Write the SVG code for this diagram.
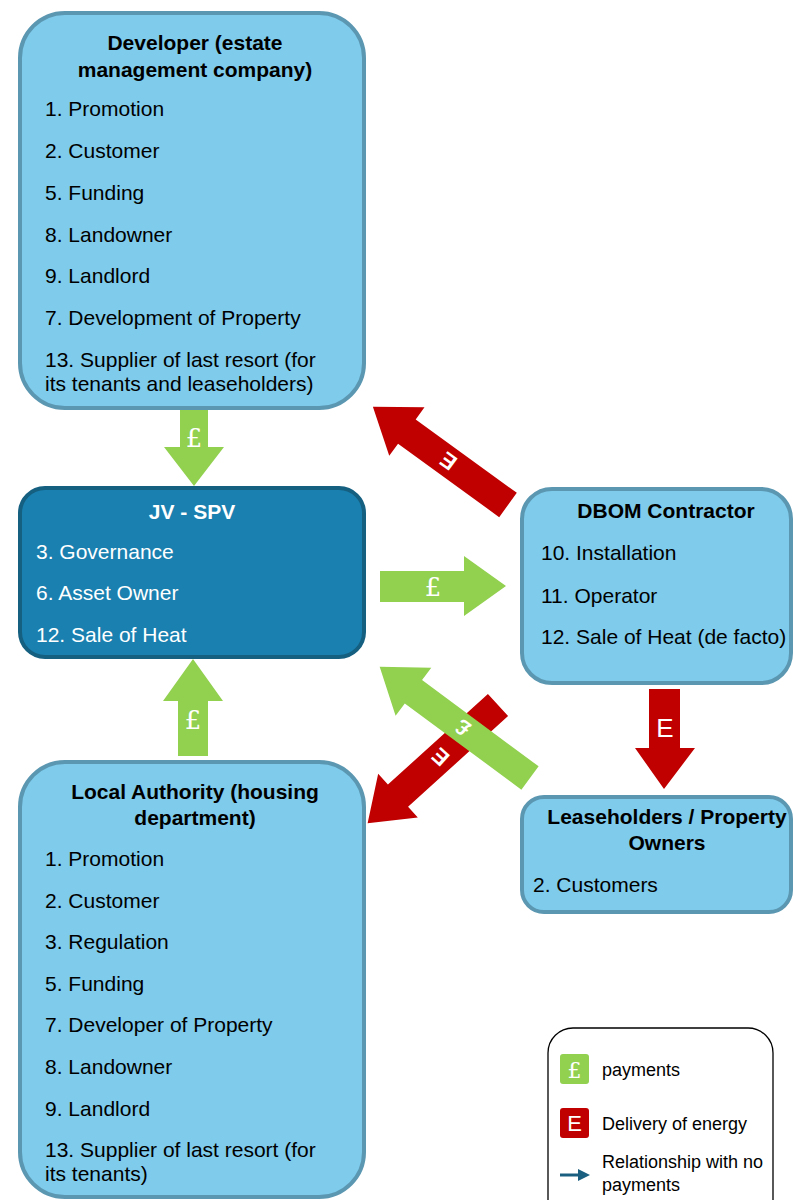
<svg xmlns="http://www.w3.org/2000/svg" width="793" height="1200" viewBox="0 0 793 1200">
<style>
.lb{fill:#7ecbec;stroke:#5b97b1;stroke-width:4}
.db{fill:#1a80b0;stroke:#155f80;stroke-width:4}
.t{font-family:"Liberation Sans",Arial,sans-serif;font-size:21px;fill:#000}
.tb{font-family:"Liberation Sans",Arial,sans-serif;font-size:21px;font-weight:bold;fill:#000;text-anchor:middle}
.w{fill:#fff}
.g{fill:#92d050}
.r{fill:#c00000}
.sym{font-family:"DejaVu Serif","Liberation Serif",serif;font-size:26px;fill:#fff;text-anchor:middle}
.symE{font-family:"Liberation Sans",Arial,sans-serif;font-size:26px;fill:#fff;text-anchor:middle}
.symB{font-family:"Liberation Sans",Arial,sans-serif;font-size:22px;font-weight:bold;fill:#fff;text-anchor:middle}
.lg{font-family:"Liberation Sans",Arial,sans-serif;font-size:18px;fill:#000}
</style>
<rect width="793" height="1200" fill="#fff"/>

<g id="connectors">
  <g id="dev-to-jv">
    <polygon class="g" points="180,408 208,408 208,447 224,447 194,486 164,447 180,447"/>
    <text class="sym" x="194" y="447">£</text>
  </g>
  <g id="la-to-jv">
    <polygon class="g" points="193,659 223,701 208,701 208,756 178,756 178,701 163,701"/>
    <text class="sym" x="193" y="729">£</text>
  </g>
  <g id="jv-to-dbom">
    <polygon class="g" points="380,571 464,571 464,556 506,586 464,616 464,602 380,602"/>
    <text class="sym" x="433" y="596">£</text>
  </g>
  <g id="dbom-to-lease">
    <polygon class="r" points="649,689 680,689 680,748 695,748 664,789 635,748 649,748"/>
    <text class="symE" x="665" y="737">E</text>
  </g>
  <g id="dbom-to-dev" transform="translate(508,505) rotate(-144)">
    <polygon class="r" points="0,-15 125,-15 125,-30 167,0 125,30 125,15 0,15"/>
    <text class="symB" x="74" y="8">E</text>
  </g>
  <g id="jv-to-la" transform="translate(498,705) rotate(137.8)">
    <polygon class="r" points="0,-15 135,-15 135,-29.5 176,0 135,29.5 135,15 0,15"/>
    <text class="symB" x="78" y="8" transform="rotate(84.2 78 0)">E</text>
  </g>
  <g id="lease-to-jv" transform="translate(530,778) rotate(-143.5)">
    <polygon class="g" points="0,-14.5 145,-14.5 145,-30 187,0 145,30 145,14.5 0,14.5"/>
    <text class="symB" x="84" y="8">£</text>
  </g>
</g>

<g id="developer">
  <rect class="lb" x="20" y="13" width="344" height="395" rx="45"/>
  <text class="tb" x="195" y="50">Developer (estate</text>
  <text class="tb" x="195" y="77">management company)</text>
  <text class="t" x="45" y="116">1. Promotion</text>
  <text class="t" x="45" y="158">2. Customer</text>
  <text class="t" x="45" y="200">5. Funding</text>
  <text class="t" x="45" y="242">8. Landowner</text>
  <text class="t" x="45" y="283">9. Landlord</text>
  <text class="t" x="45" y="325">7. Development of Property</text>
  <text class="t" x="45" y="367">13. Supplier of last resort (for</text>
  <text class="t" x="45" y="391">its tenants and leaseholders)</text>
</g>

<g id="jv-spv">
  <rect class="db" x="20" y="488" width="344" height="169" rx="25"/>
  <text class="tb w" x="192" y="519">JV - SPV</text>
  <text class="t w" x="36" y="559">3. Governance</text>
  <text class="t w" x="36" y="600">6. Asset Owner</text>
  <text class="t w" x="36" y="642">12. Sale of Heat</text>
</g>

<g id="dbom">
  <rect class="lb" x="522" y="489" width="269" height="194" rx="30"/>
  <text class="tb" x="666" y="518">DBOM Contractor</text>
  <text class="t" x="541" y="560">10. Installation</text>
  <text class="t" x="541" y="603">11. Operator</text>
  <text class="t" x="541" y="644">12. Sale of Heat (de facto)</text>
</g>

<g id="leaseholders">
  <rect class="lb" x="522" y="797" width="269" height="115" rx="22"/>
  <text class="tb" x="667" y="824">Leaseholders / Property</text>
  <text class="tb" x="667" y="850">Owners</text>
  <text class="t" x="533" y="892">2. Customers</text>
</g>

<g id="local-authority">
  <rect class="lb" x="20" y="762" width="344" height="435" rx="45"/>
  <text class="tb" x="195" y="799">Local Authority (housing</text>
  <text class="tb" x="195" y="825">department)</text>
  <text class="t" x="45" y="866">1. Promotion</text>
  <text class="t" x="45" y="908">2. Customer</text>
  <text class="t" x="45" y="949">3. Regulation</text>
  <text class="t" x="45" y="991">5. Funding</text>
  <text class="t" x="45" y="1032">7. Developer of Property</text>
  <text class="t" x="45" y="1074">8. Landowner</text>
  <text class="t" x="45" y="1116">9. Landlord</text>
  <text class="t" x="45" y="1157">13. Supplier of last resort (for</text>
  <text class="t" x="45" y="1181">its tenants)</text>
</g>

<g id="legend">
  <rect x="548" y="1028" width="225" height="200" rx="25" fill="#fff" stroke="#000" stroke-width="1.3"/>
  <rect class="g" x="560" y="1054" width="29" height="30" rx="3"/>
  <text class="sym" x="574.5" y="1078" style="font-size:22px">£</text>
  <text class="lg" x="602" y="1076">payments</text>
  <rect class="r" x="560" y="1108" width="29" height="30" rx="3"/>
  <text class="symE" x="574.5" y="1131" style="font-size:22px">E</text>
  <text class="lg" x="602" y="1130">Delivery of energy</text>
  <line x1="560" y1="1175" x2="580" y2="1175" stroke="#1a5e80" stroke-width="3"/>
  <polygon points="578,1169 590,1175 578,1181" fill="#1a5e80"/>
  <text class="lg" x="602" y="1168">Relationship with no</text>
  <text class="lg" x="602" y="1191">payments</text>
</g>
</svg>
